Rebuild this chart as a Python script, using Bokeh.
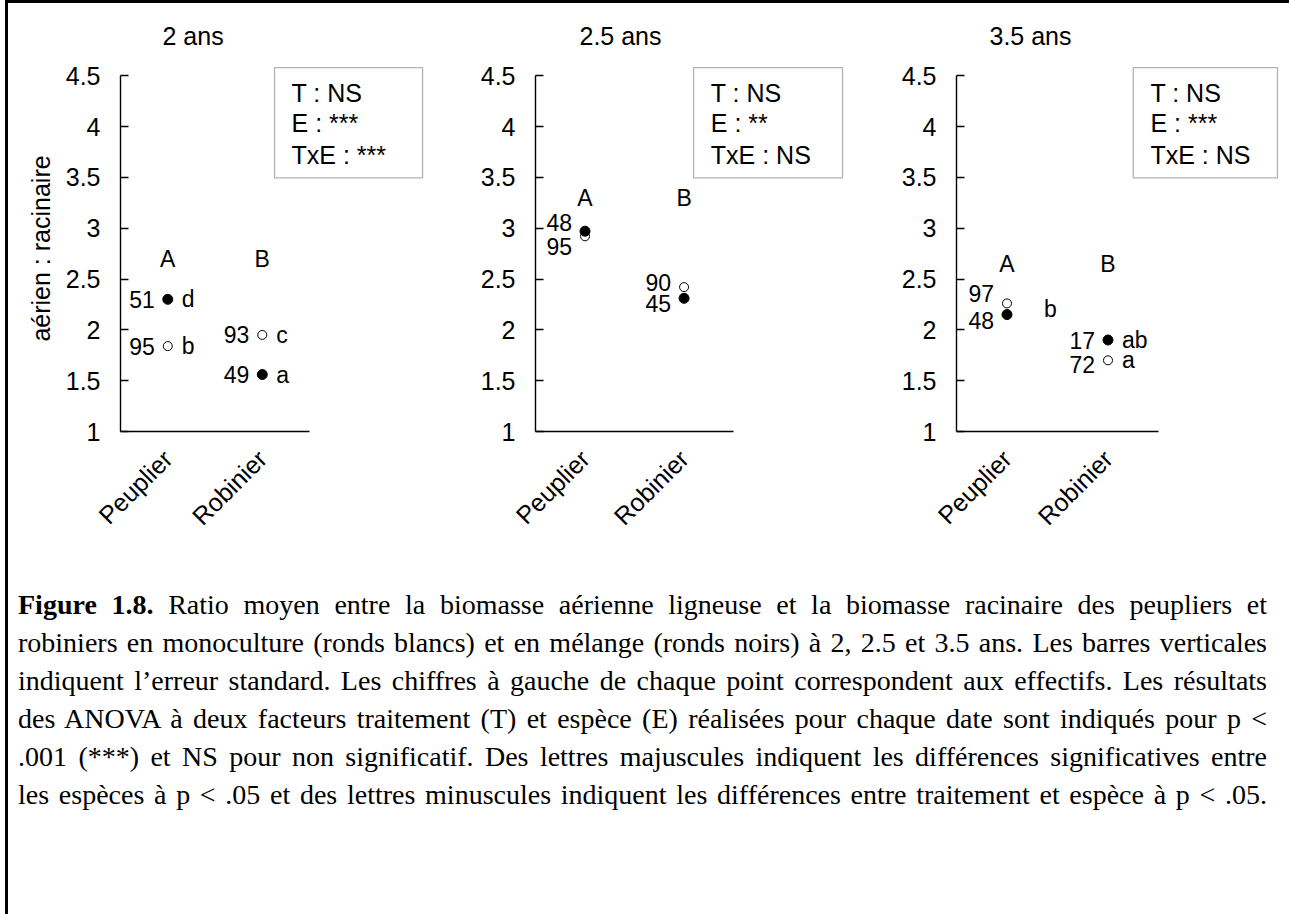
import math
import html as _html
from bokeh.plotting import figure
from bokeh.models import Range1d, FixedTicker, BoxAnnotation, Div, ColumnDataSource
from bokeh.layouts import row, column
from bokeh.embed import file_html
from bokeh.resources import INLINE
from bokeh.core.properties import value

# ---------------- data ----------------
panel_titles = ["2 ans", "2.5 ans", "3.5 ans"]
species = ["Peuplier", "Robinier"]
species_letters = ["A", "B"]

# mean ratio aerien : racinaire  (mono = ronds blancs, mix = ronds noirs)
mono_2ans = [1.84, 1.95]
mix_2ans = [2.30, 1.56]
mono_25ans = [2.92, 2.42]
mix_25ans = [2.97, 2.31]
mono_35ans = [2.26, 1.70]
mix_35ans = [2.15, 1.90]

# effectifs
n_mono_2ans = [95, 93]
n_mix_2ans = [51, 49]
n_mono_25ans = [95, 90]
n_mix_25ans = [48, 45]
n_mono_35ans = [97, 72]
n_mix_35ans = [48, 17]

# lettres minuscules
let_mono_2ans = ["b", "c"]
let_mix_2ans = ["d", "a"]
let_mono_25ans = ["", ""]
let_mix_25ans = ["", ""]
let_mono_35ans = ["", "a"]
let_mix_35ans = ["", "ab"]
group_let_2ans = ["", ""]
group_let_25ans = ["", ""]
group_let_35ans = ["b", ""]

# height of the species letters (A / B)
species_letter_y = [2.70, 3.30, 2.65]

anova_T = ["NS", "NS", "NS"]
anova_E = ["***", "**", "***"]
anova_TxE = ["***", "NS", "NS"]

y_ticks = [1, 1.5, 2, 2.5, 3, 3.5, 4, 4.5]
y_tick_labels = ["1", "1.5", "2", "2.5", "3", "3.5", "4", "4.5"]
y_label = "aérien : racinaire"

caption_lines = [
    "Ratio moyen entre la biomasse aérienne ligneuse et la biomasse racinaire des peupliers et",
    "robiniers en monoculture (ronds blancs) et en mélange (ronds noirs) à 2, 2.5 et 3.5 ans. Les barres verticales",
    "indiquent l’erreur standard. Les chiffres à gauche de chaque point correspondent aux effectifs. Les résultats",
    "des ANOVA à deux facteurs traitement (T) et espèce (E) réalisées pour chaque date sont indiqués pour p <",
    ".001 (***) et NS pour non significatif. Des lettres majuscules indiquent les différences significatives entre",
    "les espèces à p < .05 et des lettres minuscules indiquent les différences entre traitement et espèce à p < .05.",
]
caption_label = "Figure 1.8."

# ---------------- layout / style ----------------
FONT_NAME = "Liberation Sans"
FONT = value(FONT_NAME)
FIG_H = 578
B_TOP = 58
B_BOTTOM = 150
Y_START, Y_END = 1, 4.6

geoms = [
    dict(left=112, frame=305, right=9, xend=3.227, title_off=42, box=(1.63, 3.196), tx=1.81),
    dict(left=101, frame=310, right=5, xend=3.13, title_off=44, box=(1.596, 3.10), tx=1.77),
    dict(left=106, frame=324, right=0, xend=3.208, title_off=33, box=(1.75, 3.178), tx=1.92),
]
box_y = (3.495, 4.58)
stat_y = [4.33, 4.03, 3.72]
# vertical pixel offsets of the effectif labels (positive = down)
yoff_mono = [[0, 0], [10, -5], [-10, 4]]
yoff_mix = [[0, 0], [-9, 5], [6, 0]]

panels_data = [
    (mono_2ans, mix_2ans, n_mono_2ans, n_mix_2ans, let_mono_2ans, let_mix_2ans, group_let_2ans),
    (mono_25ans, mix_25ans, n_mono_25ans, n_mix_25ans, let_mono_25ans, let_mix_25ans, group_let_25ans),
    (mono_35ans, mix_35ans, n_mono_35ans, n_mix_35ans, let_mono_35ans, let_mix_35ans, group_let_35ans),
]

x_pos = [i + 0.5 for i in range(len(species))]


def make_panel(k):
    g = geoms[k]
    mono, mix, n_mono, n_mix, l_mono, l_mix, g_let = panels_data[k]
    p = figure(width=g["left"] + g["frame"] + g["right"], height=FIG_H,
               x_range=Range1d(0, g["xend"]), y_range=Range1d(Y_START, Y_END),
               output_backend="svg", toolbar_location=None,
               min_border_left=g["left"], min_border_right=g["right"],
               min_border_top=B_TOP, min_border_bottom=B_BOTTOM,
               title=panel_titles[k])
    p.outline_line_color = None
    p.xgrid.visible = False
    p.ygrid.visible = False
    p.background_fill_color = "white"
    p.border_fill_color = "white"

    t = p.title
    t.align = "left"
    t.offset = g["title_off"]
    t.text_font = FONT_NAME
    t.text_font_size = "25px"
    t.text_font_style = "normal"
    t.text_color = "black"
    t.standoff = 32

    yax = p.yaxis[0]
    yax.ticker = FixedTicker(ticks=y_ticks)
    yax.major_label_overrides = {float(v): s for v, s in zip(y_ticks, y_tick_labels)}
    yax.bounds = (y_ticks[0], y_ticks[-1])
    yax.axis_line_color = "black"
    yax.axis_line_width = 1.4
    yax.major_tick_line_color = "black"
    yax.major_tick_line_width = 1.4
    yax.major_tick_in = 8
    yax.major_tick_out = 0
    yax.minor_tick_line_color = None
    yax.major_label_standoff = 20
    yax.major_label_text_font = FONT_NAME
    yax.major_label_text_font_size = "25px"
    yax.major_label_text_color = "black"
    if k == 0:
        yax.axis_label = y_label
        yax.axis_label_text_font = FONT_NAME
        yax.axis_label_text_font_size = "25px"
        yax.axis_label_text_font_style = "normal"
        yax.axis_label_text_color = "black"
        yax.axis_label_standoff = 8

    xax = p.xaxis[0]
    xax.ticker = FixedTicker(ticks=x_pos)
    xax.major_label_overrides = {float(v): s for v, s in zip(x_pos, species)}
    xax.bounds = (0, len(species))
    xax.axis_line_color = "black"
    xax.axis_line_width = 1.4
    xax.major_tick_in = 0
    xax.major_tick_out = 0
    xax.minor_tick_line_color = None
    xax.major_label_orientation = math.pi / 4
    xax.major_label_standoff = 23
    xax.major_label_text_font = FONT_NAME
    xax.major_label_text_font_size = "25px"
    xax.major_label_text_color = "black"

    # stats box
    p.add_layout(BoxAnnotation(left=g["box"][0], right=g["box"][1],
                               bottom=box_y[0], top=box_y[1],
                               fill_color="white", fill_alpha=1.0,
                               line_color="black", line_width=1.3, level="underlay"))
    stats = ["T : " + anova_T[k], "E : " + anova_E[k], "TxE : " + anova_TxE[k]]
    p.text(x=[g["tx"]] * 3, y=stat_y, text=stats, text_font=FONT,
           text_font_size="25px", text_color="black",
           text_align="left", text_baseline="middle")

    # points
    src_mono = ColumnDataSource(dict(x=x_pos, y=mono, n=[str(v) for v in n_mono],
                                     let=l_mono, yo=yoff_mono[k]))
    src_mix = ColumnDataSource(dict(x=x_pos, y=mix, n=[str(v) for v in n_mix],
                                    let=l_mix, yo=yoff_mix[k]))
    p.scatter("x", "y", source=src_mono, marker="circle", size=9,
              fill_color="white", line_color="black", line_width=1)
    p.scatter("x", "y", source=src_mix, marker="circle", size=10,
              fill_color="black", line_color="black", line_width=1)

    for src in (src_mono, src_mix):
        p.text("x", "y", text="n", source=src, x_offset=-13, y_offset="yo",
               text_font=FONT, text_font_size="23px", text_color="black",
               text_align="right", text_baseline="middle")
        p.text("x", "y", text="let", source=src, x_offset=14,
               text_font=FONT, text_font_size="23px", text_color="black",
               text_align="left", text_baseline="middle")

    # shared letter for both treatments
    gy = [(a + b) / 2 for a, b in zip(mono, mix)]
    p.text(x=x_pos, y=gy, text=g_let, x_offset=37, text_font=FONT,
           text_font_size="23px", text_color="black",
           text_align="left", text_baseline="middle")

    # species letters
    p.text(x=x_pos, y=[species_letter_y[k]] * len(species), text=species_letters,
           text_font=FONT, text_font_size="23px", text_color="black",
           text_align="center", text_baseline="middle")
    return p


figs = [make_panel(k) for k in range(3)]

line_divs = []
for i, line in enumerate(caption_lines):
    content = _html.escape(line)
    if i == 0:
        content = "<b>" + _html.escape(caption_label) + "</b> " + content
    line_divs.append(
        '<div style="text-align:justify;text-align-last:justify;white-space:nowrap;'
        'height:38px;line-height:38px;">' + content + '</div>')
caption_html = ('<div style="font-family:\'Liberation Serif\',\'Times New Roman\',serif;'
                'font-size:28px;color:black;margin-left:5px;width:1249px;">'
                + "".join(line_divs) + '</div>')
caption = Div(text=caption_html, width=1278, height=330)

layout = column(row(*figs), caption,
                styles={"border-top": "3px solid black", "border-left": "3px solid black",
                        "margin-left": "5px", "margin-top": "0px"})

open("out.html", "w").write(file_html(layout, INLINE))
